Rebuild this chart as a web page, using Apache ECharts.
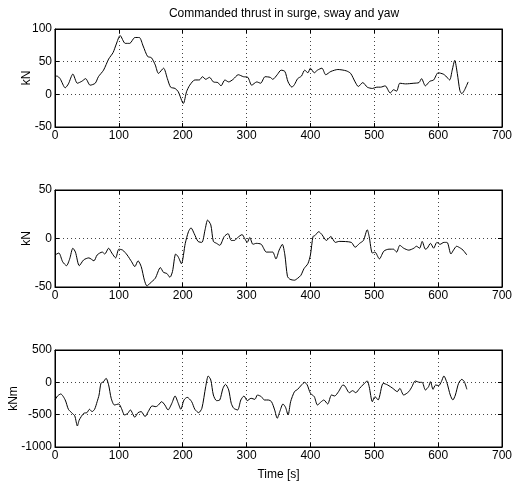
<!DOCTYPE html>
<html>
<head>
<meta charset="utf-8">
<script src="https://cdn.jsdelivr.net/npm/echarts@6/dist/echarts.min.js"></script>
<style>
html,body{margin:0;padding:0;background:#fff;}
#chart{width:526px;height:487px;}
</style>
</head>
<body>
<div id="chart"></div>
<script>
// ---- Data ----
var titleText = "Commanded thrust in surge, sway and yaw";
var xTicks = [0, 100, 200, 300, 400, 500, 600, 700];

var surgeTime = [0,3,8,16,21,28,35,42,48,55,63,68,76,84,91,96,102,110,117,125,132,138,145,151,157,162,170,176,181,188,193,201,206,211,219,226,231,236,242,248,255,260,266,272,279,287,295,302,308,316,322,329,337,341,348,354,360,365,371,375,380,386,391,396,400,406,411,418,424,432,443,456,463,470,475,482,489,497,504,510,517,525,530,535,540,549,562,570,574,580,587,593,600,608,612,618,622,626,630,634,637,641,647];
var surgeValues = [27,28,24,10,16,31,17,20,24,14,17,27,37,54,64,77,90,78,78,87,87,74,58,56,45,32,40,24,11,9,4,-14,4,14,22,22,27,23,26,19,18,13,22,19,23,30,27,26,14,19,17,27,26,23,30,37,35,19,11,15,24,28,37,33,40,33,37,40,30,35,38,36,32,19,12,18,11,9,11,11,13,2,7,5,17,16,17,18,24,13,20,22,33,31,28,22,37,52,32,6,1,6,19];

var swayTime = [0,6,12,18,23,28,32,38,45,53,61,66,74,78,84,89,95,100,106,113,120,125,130,135,140,144,149,157,165,170,175,180,184,189,193,198,204,209,213,218,224,230,235,239,244,248,253,258,265,271,276,281,286,293,297,301,305,310,315,323,331,337,341,346,351,356,360,364,368,375,380,385,390,396,400,404,407,413,418,425,432,439,445,464,470,477,483,489,492,497,501,508,515,523,530,535,540,546,554,562,566,571,575,580,583,588,593,598,603,609,614,620,624,629,635,639,645];
var swayValues = [-17,-15,-24,-28,-21,-10,-14,-28,-22,-20,-23,-17,-14,-16,-10,-15,-20,-11,-12,-17,-24,-29,-23,-29,-43,-49,-46,-41,-30,-35,-36,-40,-34,-16,-19,-26,-5,7,11,5,-3,-4,9,19,14,-3,-5,-7,2,5,-2,-2,1,4,0,-4,1,-6,-5,-6,-14,-14,-14,-21,-12,-6,-17,-39,-42,-43,-41,-38,-31,-26,-17,2,3,7,4,-2,2,-4,-3,-4,-9,-5,-2,9,2,-15,-14,-21,-13,-11,-11,-14,-7,-10,-12,-10,-8,-10,-3,-11,-10,-5,-10,-4,-6,-4,-4,-16,-12,-8,-10,-12,-17];

var yawTime = [0,4,9,16,21,27,31,35,38,45,50,54,58,62,66,69,72,76,80,84,88,93,100,104,109,114,118,125,130,135,141,146,152,158,162,167,172,177,183,188,193,197,202,207,214,219,225,230,236,240,244,248,253,258,263,267,272,276,280,286,291,296,301,307,313,317,323,328,334,339,344,348,352,357,361,365,369,375,380,386,391,395,400,406,411,417,421,427,433,438,444,451,454,461,466,471,477,482,489,492,497,501,506,514,521,529,536,540,546,554,559,564,571,575,580,585,588,592,596,601,605,609,614,619,623,627,632,637,641,645];
var yawValues = [-273,-211,-180,-273,-417,-479,-520,-675,-582,-479,-469,-417,-453,-417,-299,-196,-15,10,62,-41,-247,-350,-335,-402,-505,-479,-427,-540,-469,-453,-530,-453,-365,-376,-350,-299,-350,-427,-324,-211,-324,-417,-273,-232,-299,-417,-469,-402,-67,98,36,-196,-283,-273,-93,-31,-118,-324,-402,-427,-273,-211,-283,-247,-263,-196,-221,-273,-273,-299,-427,-556,-453,-335,-386,-505,-299,-144,-108,-41,0,-41,-170,-221,-350,-299,-273,-335,-196,-211,-144,-41,-57,-160,-129,-160,-93,-41,21,-67,-299,-221,-273,-15,-41,-93,-144,-93,-196,-144,-67,21,0,0,-118,-67,10,-108,-41,-51,10,98,-15,-196,-273,-196,-15,46,10,-108];

var panels = [
  {name: "kN",  min: -50,   max: 100, interval: 50,  time: surgeTime, values: surgeValues, gap: 22},
  {name: "kN",  min: -50,   max: 50,  interval: 50,  time: swayTime,  values: swayValues,  gap: 22},
  {name: "kNm", min: -1000, max: 500, interval: 500, time: yawTime,   values: yawValues,   gap: 35}
];
var xLabel = "Time [s]";

// ---- Layout ----
var gridTops = [29, 190, 350];
var gridHeights = [98, 97, 97];
var FONT = "'Liberation Sans', Arial, Helvetica, sans-serif";

var chart = echarts.init(document.getElementById('chart'), null, {renderer: 'canvas'});

function plain(v) { return String(v); }

var grids = [], xAxes = [], yAxes = [], series = [];
panels.forEach(function (p, i) {
  grids.push({left: 55, right: 24, top: gridTops[i], height: gridHeights[i],
              containLabel: false, outerBoundsMode: 'none',
              show: true, borderColor: '#000', borderWidth: 1, backgroundColor: '#fff'});
  var tickStyle = {show: true, inside: true, length: 4, lineStyle: {color: '#000', width: 1}};
  xAxes.push({
    type: 'value', gridIndex: i, min: xTicks[0], max: xTicks[xTicks.length - 1], interval: 100,
    position: 'bottom',
    axisLine: {show: true, onZero: false, lineStyle: {color: '#000', width: 1}},
    axisTick: tickStyle,
    axisLabel: {color: '#000', fontSize: 12, fontFamily: FONT, margin: 3, formatter: plain},
    splitLine: {show: true, lineStyle: {color: '#444', type: [1, 3], width: 1}},
    name: i === 2 ? xLabel : '', nameLocation: 'middle', nameGap: 22, nameMoveOverlap: false,
    nameTextStyle: {color: '#000', fontSize: 12, fontFamily: FONT}
  });
  xAxes.push({
    type: 'value', gridIndex: i, min: xTicks[0], max: xTicks[xTicks.length - 1], interval: 100,
    position: 'top',
    axisLine: {show: true, onZero: false, lineStyle: {color: '#000', width: 1}},
    axisTick: tickStyle, axisLabel: {show: false}, splitLine: {show: false}
  });
  yAxes.push({
    type: 'value', gridIndex: i, min: p.min, max: p.max, interval: p.interval,
    position: 'left',
    axisLine: {show: true, onZero: false, lineStyle: {color: '#000', width: 1}},
    axisTick: tickStyle,
    axisLabel: {color: '#000', fontSize: 12, fontFamily: FONT, margin: 3, formatter: plain},
    splitLine: {show: true, lineStyle: {color: '#444', type: [1, 3], width: 1}},
    name: p.name, nameLocation: 'middle', nameGap: p.gap, nameRotate: 90, nameMoveOverlap: false,
    nameTextStyle: {color: '#000', fontSize: 12, fontFamily: FONT}
  });
  yAxes.push({
    type: 'value', gridIndex: i, min: p.min, max: p.max, interval: p.interval,
    position: 'right',
    axisLine: {show: true, onZero: false, lineStyle: {color: '#000', width: 1}},
    axisTick: tickStyle, axisLabel: {show: false}, splitLine: {show: false}
  });
  series.push({
    type: 'line', xAxisIndex: i * 2, yAxisIndex: i * 2,
    data: p.time.map(function (t, k) { return [t, p.values[k]]; }),
    showSymbol: false, smooth: 0.25, silent: true, animation: false,
    lineStyle: {color: '#000', width: 1}
  });
});

chart.setOption({
  animation: false,
  backgroundColor: '#fff',
  title: {
    text: titleText, left: 279, top: 3, textAlign: 'center',
    textStyle: {color: '#000', fontSize: 12, fontWeight: 'normal', fontFamily: FONT}
  },
  grid: grids, xAxis: xAxes, yAxis: yAxes, series: series
});
</script>
</body>
</html>
